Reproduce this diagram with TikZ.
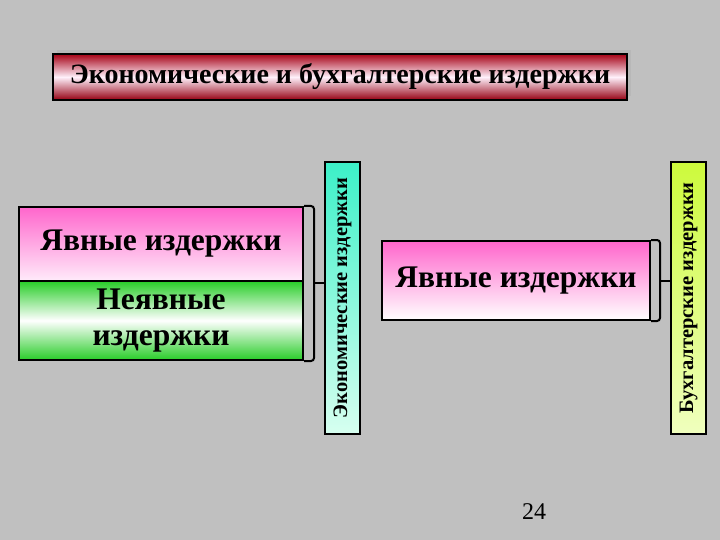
\documentclass[tikz,border=0pt]{standalone}
\usepackage{fontspec}
\setmainfont{Liberation Serif}
\usetikzlibrary{positioning,shadows}
\definecolor{bg}{RGB}{192,192,192}
\definecolor{darkred}{RGB}{165,0,20}
\definecolor{pinkc}{RGB}{255,102,204}
\definecolor{palepink}{RGB}{255,235,250}
\definecolor{greenc}{RGB}{40,205,40}
\definecolor{aquac}{RGB}{60,240,200}
\definecolor{paleaqua}{RGB}{215,255,240}
\definecolor{limec}{RGB}{205,250,60}
\definecolor{palelime}{RGB}{240,255,190}
\tikzstyle{box}=[draw=black,line width=2pt,inner sep=0pt,align=center,font=\bfseries\fontsize{31.5}{36}\selectfont]
\tikzstyle{vbox}=[draw=black,line width=2pt,inner sep=0pt,rotate=90,minimum width=272pt,minimum height=35pt,font=\bfseries\fontsize{20.5}{22}\selectfont]
\tikzstyle{brk}=[line width=2pt,rounded corners=3pt]

\begin{document}
\begin{tikzpicture}[x=1pt,y=-1pt]
\fill[bg] (0,0) rectangle (720,540);
\useasboundingbox (0,0) rectangle (720,540);
% title
\node[box,minimum width=574pt,minimum height=46pt,top color=darkred,bottom color=darkred!90!black,middle color=palepink!70!white,
      drop shadow={shadow xshift=4pt,shadow yshift=4pt,fill=black!30},font=\bfseries\fontsize{28}{32}\selectfont] (title) at (340,77) {Экономические и бухгалтерские издержки};
% left group
\node[box,minimum width=284pt,minimum height=74pt,top color=pinkc,bottom color=palepink] (yavL) at (161,244) {Явные издержки};
\node[box,minimum width=284pt,minimum height=79pt,top color=greenc,bottom color=greenc,middle color=white] (neyav) at (161,320.5) {Неявные\\издержки};
\node[vbox,top color=aquac,bottom color=paleaqua] (econ) at (342.5,298) {Экономические издержки};
% right group
\node[box,minimum width=268pt,minimum height=79pt,top color=pinkc,bottom color=white] (yavR) at (516,280.5) {Явные издержки};
\node[vbox,top color=limec,bottom color=palelime] (buh) at (688.5,298) {Бухгалтерские издержки};
% brackets
\coordinate (tL) at (314,283);
\coordinate (tR) at (660,281);
\draw[brk] (yavL.north east) -| (tL) |- (neyav.south east);
\draw[brk] (yavR.north east) -| (tR) |- (yavR.south east);
\draw[line width=2pt] (tL) -- (tL -| econ.north);
\draw[line width=2pt] (tR) -- (tR -| buh.north);
\node[font=\fontsize{24}{26}\selectfont] (page) at (534,512) {24};
\end{tikzpicture}
\end{document}
